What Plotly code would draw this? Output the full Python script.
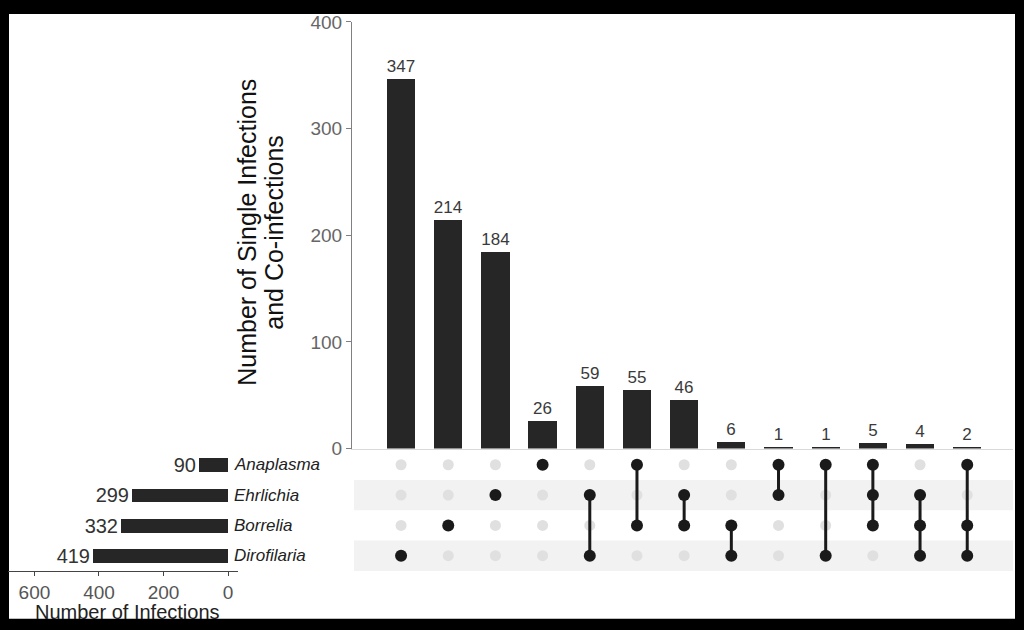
import plotly.graph_objects as go

# ---------------- data ----------------
sets = ["Anaplasma", "Ehrlichia", "Borrelia", "Dirofilaria"]
set_sizes = [90, 299, 332, 419]
intersection_counts = [347, 214, 184, 26, 59, 55, 46, 6, 1, 1, 5, 4, 2]
intersection_members = [
    ["Dirofilaria"],
    ["Borrelia"],
    ["Ehrlichia"],
    ["Anaplasma"],
    ["Ehrlichia", "Dirofilaria"],
    ["Anaplasma", "Borrelia"],
    ["Ehrlichia", "Borrelia"],
    ["Borrelia", "Dirofilaria"],
    ["Anaplasma", "Ehrlichia"],
    ["Anaplasma", "Dirofilaria"],
    ["Anaplasma", "Ehrlichia", "Borrelia"],
    ["Ehrlichia", "Borrelia", "Dirofilaria"],
    ["Anaplasma", "Borrelia", "Dirofilaria"],
]
main_ticks = [0, 100, 200, 300, 400]
size_ticks = [0, 200, 400, 600]
y_title_lines = ["Number of Single Infections", "and Co-infections"]
x_title = "Number of Infections"

# ---------------- layout helpers ----------------
W, H = 1024, 630
def fx(px):
    return px / W
def fy(py):
    # vertical pixel target -> paper fraction (with empirical vertical correction)
    spec = (py - 8.0) / 0.972
    spec = min(max(spec, 0), H)
    return 1 - spec / H

FONT = "Liberation Sans, Arial, sans-serif"
row_pos = {s: len(sets) - 1 - i for i, s in enumerate(sets)}  # Anaplasma on top
cols = list(range(len(intersection_counts)))
XR = [-1.04, 12.97]

fig = go.Figure()

# intersection bars
fig.add_trace(go.Bar(
    x=cols, y=intersection_counts, xaxis="x", yaxis="y",
    marker=dict(color="#262626", line=dict(width=0)), width=0.6,
    text=[str(v) for v in intersection_counts], textposition="outside",
    textfont=dict(size=17, color="#3a3a3a", family=FONT),
    constraintext="none", cliponaxis=False, hoverinfo="skip", showlegend=False,
))

# matrix dots and connectors
ix, iy, ax_, ay = [], [], [], []
lx, ly = [], []
for c, mem in zip(cols, intersection_members):
    for s in sets:
        if s in mem:
            ax_.append(c); ay.append(row_pos[s])
        else:
            ix.append(c); iy.append(row_pos[s])
    if len(mem) > 1:
        ys = [row_pos[s] for s in mem]
        lx += [c, c, None]
        ly += [min(ys), max(ys), None]

fig.add_trace(go.Scatter(
    x=ix, y=iy, xaxis="x2", yaxis="y2", mode="markers",
    marker=dict(size=11, color="#e0e0e0"), hoverinfo="skip", showlegend=False,
))
fig.add_trace(go.Scatter(
    x=lx, y=ly, xaxis="x2", yaxis="y2", mode="lines",
    line=dict(color="#1a1a1a", width=3), hoverinfo="skip", showlegend=False,
))
fig.add_trace(go.Scatter(
    x=ax_, y=ay, xaxis="x2", yaxis="y2", mode="markers",
    marker=dict(size=12, color="#1a1a1a"), hoverinfo="skip", showlegend=False,
))

# set size bars
fig.add_trace(go.Bar(
    x=set_sizes, y=[row_pos[s] for s in sets], orientation="h",
    xaxis="x3", yaxis="y3", width=0.46,
    marker=dict(color="#262626", line=dict(width=0)),
    text=[str(v) for v in set_sizes], textposition="outside",
    textfont=dict(size=20, color="#333333", family=FONT),
    constraintext="none", cliponaxis=False, hoverinfo="skip", showlegend=False,
))

shapes = [
    dict(type="rect", xref="paper", yref="paper", x0=fx(9), x1=fx(1015),
         y0=fy(620), y1=fy(12), fillcolor="white", line=dict(width=0), layer="below"),
]
for s in ["Ehrlichia", "Dirofilaria"]:
    r = row_pos[s]
    shapes.append(dict(type="rect", xref="paper", yref="y2", x0=fx(354), x1=fx(1013),
                       y0=r - 0.5, y1=r + 0.5, fillcolor="#f2f2f2",
                       line=dict(width=0), layer="below"))

annotations = []
for s in sets:
    annotations.append(dict(
        text="<i>%s</i>" % s, xref="paper", yref="y3", x=fx(232), y=row_pos[s],
        xanchor="left", yanchor="middle", showarrow=False,
        font=dict(size=17, color="#222222", family=FONT),
    ))
for line_text, cx in zip(y_title_lines, [247, 274]):
    annotations.append(dict(
        text=line_text, xref="paper", yref="paper", x=fx(cx), y=fy(232),
        xanchor="center", yanchor="middle", textangle=-90, showarrow=False,
        font=dict(size=25, color="#111111", family=FONT),
    ))
annotations.append(dict(
    text=x_title, xref="paper", yref="paper", x=fx(127), y=fy(613),
    xanchor="center", yanchor="middle", showarrow=False,
    font=dict(size=20, color="#222222", family=FONT),
))

fig.update_layout(
    width=W, height=H, autosize=False,
    margin=dict(l=0, r=0, t=0, b=0, pad=0),
    paper_bgcolor="black", plot_bgcolor="rgba(0,0,0,0)",
    font=dict(family=FONT),
    bargap=0,
    shapes=shapes, annotations=annotations,
    xaxis=dict(domain=[fx(352), fx(1013)], range=XR, anchor="y",
               showticklabels=False, ticks="", showgrid=False, zeroline=False,
               showline=True, linecolor="#d9d9d9", linewidth=1),
    yaxis=dict(domain=[fy(449), fy(20)], range=[0, 400], anchor="x",
               tickvals=main_ticks, ticks="outside", ticklen=5, tickcolor="#808080",
               showline=True, linecolor="#808080", linewidth=1,
               showgrid=False, zeroline=False,
               tickfont=dict(size=19, color="#666666", family=FONT)),
    xaxis2=dict(domain=[fx(352), fx(1013)], range=XR, anchor="y2", visible=False),
    yaxis2=dict(domain=[fy(572), fy(450)], range=[-0.5, 3.5], anchor="x2", visible=False),
    xaxis3=dict(domain=[fx(8), fx(238)], range=[682, -31], anchor="y3",
                tickvals=size_ticks, ticks="outside", ticklen=4, tickcolor="#444444",
                showline=True, linecolor="#444444", linewidth=1,
                showgrid=False, zeroline=False,
                tickfont=dict(size=19, color="#555555", family=FONT)),
    yaxis3=dict(domain=[fy(572), fy(450)], range=[-0.5, 3.5], anchor="x3", visible=False),
)

fig.write_html("out.html")
